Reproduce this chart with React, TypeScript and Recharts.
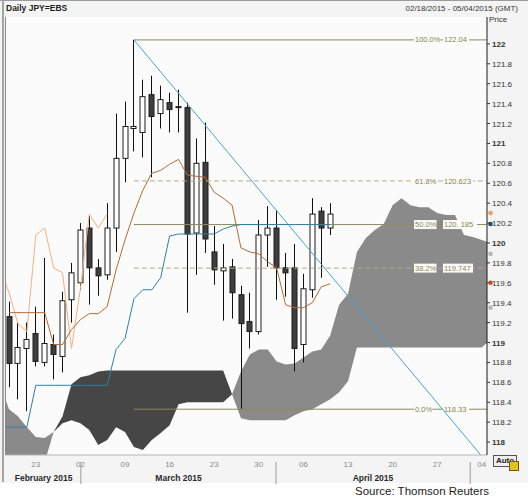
import React from 'react';
import {
  ComposedChart, Area, Line, Bar, XAxis, YAxis, ReferenceLine, ReferenceDot, CartesianGrid,
} from 'recharts';

const FONT = '"Liberation Sans", Arial, sans-serif';

// Trading days from Feb 18 2015 (index 0) ; candles cover index 0..36
const opens = [119.26, 118.79, 118.94, 119.09, 118.80, 118.98, 118.86, 119.43, 119.60, 120.15, 119.75, 119.68, 120.15, 120.85, 121.15, 121.11, 121.49, 121.30, 121.41, 121.36, 121.36, 120.10, 120.81, 119.91, 119.72, 119.76, 119.48, 119.21, 119.11, 120.08, 120.15, 119.75, 119.75, 118.98, 119.53, 120.32, 120.15];
const highs = [119.41, 119.20, 119.20, 119.36, 119.85, 119.08, 119.51, 119.80, 120.20, 120.27, 119.84, 120.40, 121.30, 121.42, 122.04, 121.64, 121.68, 121.58, 121.51, 121.54, 121.41, 121.05, 121.21, 120.17, 119.99, 119.84, 119.57, 119.50, 120.23, 120.37, 120.33, 119.90, 119.99, 119.69, 120.45, 120.36, 120.40];
const lows = [118.55, 118.43, 118.31, 118.76, 118.76, 118.63, 118.70, 119.20, 119.53, 119.38, 119.47, 119.63, 119.91, 120.61, 120.92, 120.86, 120.66, 121.15, 121.11, 121.11, 119.30, 119.68, 119.90, 119.58, 119.22, 119.24, 118.33, 118.94, 119.08, 119.76, 119.43, 119.46, 118.71, 118.80, 119.45, 119.65, 120.08];
const closes = [118.79, 118.95, 119.03, 118.81, 118.99, 118.88, 119.42, 119.70, 120.13, 119.75, 119.67, 120.15, 120.85, 121.17, 121.17, 121.47, 121.27, 121.44, 121.34, 121.37, 120.09, 120.80, 120.04, 119.73, 119.75, 119.50, 119.19, 119.11, 120.08, 120.15, 119.75, 119.70, 118.94, 119.54, 120.29, 120.15, 120.29];

// Conversion line (index 0..36)
const tenkan = [119.30, 119.30, 119.30, 119.30, 119.30, 118.98, 118.98, 119.13, 119.23, 119.29, 119.29, 119.36, 119.73, 120.03, 120.30, 120.53, 120.70, 120.73, 120.79, 120.84, 120.68, 120.67, 120.66, 120.51, 120.45, 120.38, 119.95, 119.91, 119.89, 119.81, 119.75, 119.38, 119.35, 119.35, 119.40, 119.56, 119.59];
// Base line (index -1..36)
const kijun = [118.15, 118.15, 118.15, 118.15, 118.57, 118.57, 118.57, 118.57, 118.57, 118.57, 118.57, 118.57, 118.57, 118.93, 119.04, 119.44, 119.53, 119.53, 119.65, 120.07, 120.09, 120.09, 120.09, 120.09, 120.09, 120.14, 120.17, 120.185, 120.185, 120.185, 120.185, 120.185, 120.185, 120.185, 120.185, 120.185, 120.185, 120.185];
// Leading spans (index -1..54)
const senkouA = [118.58, 118.33, 118.26, 118.15, 118.05, 118.04, 118.10, 118.19, 118.22, 118.19, 118.12, 117.97, 118.02, 118.15, 118.10, 117.95, 117.92, 118.02, 118.09, 118.17, 118.38, 118.40, 118.40, 118.40, 118.40, 118.40, 118.48, 118.71, 118.88, 118.93, 118.93, 118.81, 118.78, 118.79, 118.85, 118.91, 118.93, 119.07, 119.38, 119.49, 119.91, 120.05, 120.13, 120.19, 120.38, 120.45, 120.38, 120.36, 120.36, 120.30, 120.28, 120.28, 120.08, 120.06, 120.03, 120.00];
const senkouB = [117.60, 117.60, 117.60, 117.60, 117.60, 117.80, 118.10, 118.26, 118.58, 118.65, 118.67, 118.71, 118.72, 118.72, 118.72, 118.72, 118.72, 118.72, 118.72, 118.72, 118.72, 118.72, 118.72, 118.72, 118.72, 118.72, 118.48, 118.24, 118.22, 118.22, 118.22, 118.22, 118.22, 118.27, 118.31, 118.33, 118.38, 118.43, 118.50, 118.61, 118.95, 118.95, 118.95, 118.95, 118.95, 118.95, 118.95, 118.95, 118.95, 118.95, 118.95, 118.95, 118.95, 118.95, 118.95, 119.03];
const CHIKOU_LAG = 25;

const weekTicks = [3, 8, 13, 18, 23, 28, 33, 38, 43, 48, 53];
const weekLabels = ['23', '02', '09', '16', '23', '30', '06', '13', '20', '27', '04'];
const monthNames = ['February 2015', 'March 2015', 'April 2015'];
const monthCenters = [3.87, 19.0, 40.8];
const monthBounds = [8.05, 29.93, 51.7];

const yTicks = [118, 118.2, 118.4, 118.6, 118.8, 119, 119.2, 119.4, 119.6, 119.8, 120, 120.2, 120.4, 120.6, 120.8, 121, 121.2, 121.4, 121.6, 121.8, 122];

const fibPct = ['100.0%', '61.8%', '50.0%', '38.2%', '0.0%'];
const fibValues = [122.04, 120.623, 120.185, 119.747, 118.33];
const fibText = ['122.04', '120.623', '120. 185', '119.747', '118.33'];
const fibDashed = [false, true, false, true, false];
const fibStartIdx = 14;

const trendStart = { x: 14, y: 122.04 };
const trendEnd = { x: 54, y: 117.75 };

const markerValues = [120.30, 120.19, 119.89, 119.60, 119.35];
const markerColors = ['#f29a62', '#1d4f7c', '#b8b8b8', '#c8501e', '#b8b8b8'];

const X_MIN = -0.34;
const X_MAX = 53.58;

const rows: any[] = senkouA.map((a, k) => {
  const idx = k - 1;
  const b = senkouB[k];
  const hasC = idx >= 0 && idx < opens.length;
  const ch = idx + CHIKOU_LAG;
  return {
    idx,
    o: hasC ? opens[idx] : null,
    h: hasC ? highs[idx] : null,
    l: hasC ? lows[idx] : null,
    c: hasC ? closes[idx] : null,
    candle: hasC ? [lows[idx], highs[idx]] : null,
    tenkan: idx >= 0 && idx < tenkan.length ? tenkan[idx] : null,
    kijun: k < kijun.length ? kijun[k] : null,
    chikou: ch >= 0 && ch < closes.length ? closes[ch] : null,
    dark: b >= a ? [a, b] : null,
    light: a >= b ? [b, a] : null,
  };
});

const Candle = (props: any) => {
  const { x, y, width, height, payload } = props;
  if (!payload || payload.o == null || height == null || isNaN(y)) return null;
  const { o, h, l, c } = payload;
  const top0 = Math.min(y, y + height);
  const hh = Math.abs(height);
  const span = h - l || 1;
  const toY = (v: number) => top0 + ((h - v) / span) * hh;
  const cx = Math.round(x + width / 2) + 0.5;
  const up = c >= o;
  const bt = toY(Math.max(o, c));
  const bb = toY(Math.min(o, c));
  const bh = Math.max(bb - bt, 1);
  return (
    <g>
      <line x1={cx} x2={cx} y1={top0} y2={top0 + hh} stroke="#111" strokeWidth={1} />
      <rect x={cx - 2.5} y={bt} width={5} height={bh} fill={up ? '#ffffff' : '#3e3e3e'} stroke="#1c1c1c" strokeWidth={1} />
    </g>
  );
};

const YTick = (props: any) => {
  const { x, y, payload } = props;
  const v = payload.value;
  const isInt = Math.abs(v - Math.round(v)) < 1e-6;
  const label = String(Math.round(v * 10) / 10);
  return (
    <text x={x} y={y} dy={3} fontSize={8} fontFamily={FONT} fill="#333" fontWeight={isInt ? 'bold' : 'normal'}>
      {label}
    </text>
  );
};

const MonthTick = (props: any) => {
  const { x, y, payload } = props;
  const ci = monthCenters.indexOf(payload.value);
  if (ci >= 0) {
    return (
      <text x={x} y={y + 7} textAnchor="middle" fontSize={8.5} fontWeight="bold" fontFamily={FONT} fill="#2a2a2a">
        {monthNames[ci]}
      </text>
    );
  }
  return <line x1={x} x2={x} y1={y - 12} y2={y + 10} stroke="#9a9a9a" strokeWidth={1} />;
};

const fibLabel = (i: number) => (props: any) => {
  const vb = props.viewBox || {};
  const right = (vb.x || 0) + (vb.width || 0);
  const y = vb.y || 0;
  const pw = fibPct[i].length * 4.1;
  const vw = fibText[i].length * 4.0;
  return (
    <g fontFamily={FONT} fontSize={7.5}>
      <rect x={right - 73} y={y - 4.5} width={pw + 2} height={9} fill="#fbfbf7" />
      <text x={right - 72} y={y + 2.6} fill="#8a8658">{fibPct[i]}</text>
      <rect x={right - 44} y={y - 4.5} width={vw + 2} height={9} fill="#fbfbf7" />
      <text x={right - 43} y={y + 2.6} fill="#8a8658">{fibText[i]}</text>
    </g>
  );
};

const MarkerDot = (color: string) => (props: any) => {
  const { cx, cy } = props;
  return <circle cx={cx + 3.5} cy={cy} r={2.3} fill={color} />;
};

const allMonthTicks = [...monthCenters, ...monthBounds].sort((a, b) => a - b);

export default function App() {
  return (
    <div style={{ position: 'absolute', left: 0, top: 0, width: 528, height: 500, background: '#ffffff', fontFamily: FONT }}>
      <div style={{ position: 'absolute', left: 0, top: 0, width: 528, height: 482, background: '#f4f4f4', borderTop: '1px solid #9a9a9a' }} />
      <div style={{ position: 'absolute', left: 2, top: 0, width: 2, height: 482, background: '#a4a4a4' }} />
      <div style={{ position: 'absolute', left: 5, top: 17, width: 1, height: 438, background: '#8a8a8a' }} />
      <div style={{ position: 'absolute', left: 6, top: 3, fontSize: 8.5, fontWeight: 'bold', color: '#1e1e1e', lineHeight: '11px' }}>Daily JPY=EBS</div>
      <div style={{ position: 'absolute', left: 0, width: 518, top: 3, fontSize: 8, color: '#333', textAlign: 'right', lineHeight: '11px' }}>02/18/2015 - 05/04/2015 (GMT)</div>
      <div style={{ position: 'absolute', left: 489, top: 15, fontSize: 8, color: '#333', lineHeight: '10px' }}>Price</div>
      <div style={{ position: 'absolute', left: 0, top: 0 }}>
        <ComposedChart width={528} height={500} data={rows} margin={{ top: 17, right: 0, bottom: 16, left: 6 }}>
          <CartesianGrid horizontal={false} vertical={false} fill="#fbfbfb" />
          <XAxis
            xAxisId="d"
            type="number"
            dataKey="idx"
            domain={[X_MIN, X_MAX]}
            allowDataOverflow
            ticks={weekTicks}
            interval={0}
            tickFormatter={(v: number) => weekLabels[weekTicks.indexOf(v)] ?? ''}
            height={13}
            tickSize={4}
            tickMargin={2}
            tickLine={false}
            axisLine={{ stroke: '#b5b5b5' }}
            tick={{ fontSize: 8, fill: '#8a8a8a', fontFamily: FONT }}
          />
          <XAxis
            xAxisId="m"
            type="number"
            dataKey="idx"
            domain={[X_MIN, X_MAX]}
            allowDataOverflow
            ticks={allMonthTicks}
            interval={0}
            height={16}
            tickSize={4}
            tickMargin={2}
            tickLine={false}
            axisLine={false}
            tick={<MonthTick />}
          />
          <YAxis
            orientation="right"
            type="number"
            domain={[117.87, 122.27]}
            allowDataOverflow
            ticks={yTicks}
            interval={0}
            width={41}
            tickSize={3}
            tickMargin={2}
            axisLine={{ stroke: '#1a1a1a' }}
            tickLine={{ stroke: '#333' }}
            tick={<YTick />}
          />
          <Area xAxisId="d" type="linear" dataKey="light" stroke="none" fill="#8a8a8a" fillOpacity={1} isAnimationActive={false} />
          <Area xAxisId="d" type="linear" dataKey="dark" stroke="none" fill="#464646" fillOpacity={1} isAnimationActive={false} />
          {fibValues.map((v, i) => (
            <ReferenceLine
              key={'fib' + i}
              xAxisId="d"
              segment={[{ x: fibStartIdx, y: v }, { x: X_MAX, y: v }]}
              stroke={fibDashed[i] ? '#b3ab85' : '#8c8a62'}
              strokeWidth={1}
              strokeDasharray={fibDashed[i] ? '5 3' : undefined}
              ifOverflow="visible"
              label={fibLabel(i)}
            />
          ))}
          <Line xAxisId="d" type="linear" dataKey="chikou" stroke="#f3b083" strokeWidth={1} dot={false} isAnimationActive={false} />
          <Line xAxisId="d" type="linear" dataKey="kijun" stroke="#2f7fa8" strokeWidth={1} dot={false} isAnimationActive={false} />
          <Line xAxisId="d" type="linear" dataKey="tenkan" stroke="#b76a35" strokeWidth={1} dot={false} isAnimationActive={false} />
          <Bar xAxisId="d" dataKey="candle" barSize={6} shape={<Candle />} isAnimationActive={false} />
          <ReferenceLine
            xAxisId="d"
            segment={[trendStart, trendEnd]}
            stroke="#4aa0d4"
            strokeWidth={1}
            ifOverflow="hidden"
          />
          {markerValues.map((v, i) => (
            <ReferenceDot key={'mk' + i} xAxisId="d" x={X_MAX} y={v} ifOverflow="visible" shape={MarkerDot(markerColors[i])} />
          ))}
        </ComposedChart>
      </div>
      <div style={{ position: 'absolute', left: 493, top: 455, width: 22, height: 10, border: '1px solid #555', background: '#eee', fontSize: 8, fontWeight: 'bold', color: '#222', lineHeight: '10px', textAlign: 'center' }}>Auto</div>
      <div style={{ position: 'absolute', left: 509, top: 461, width: 8, height: 8, background: '#e5c022', border: '1px solid #7a5a00' }} />
      <div style={{ position: 'absolute', left: 355, top: 484, fontSize: 11.5, color: '#222', lineHeight: '14px', whiteSpace: 'nowrap' }}>Source: Thomson Reuters</div>
    </div>
  );
}
